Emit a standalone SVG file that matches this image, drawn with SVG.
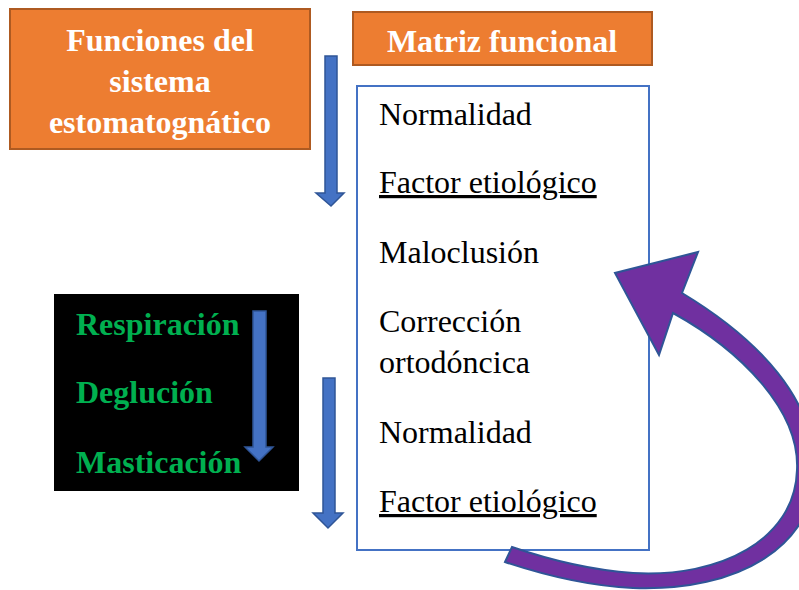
<svg xmlns="http://www.w3.org/2000/svg" width="799" height="590" viewBox="0 0 799 590">
<style>
.orange{fill:#ED7D31;stroke:#AE5A21;stroke-width:2}
.hdr{font-family:"Liberation Serif","Times New Roman",serif;font-weight:bold;font-size:32px;fill:#fff;text-anchor:middle}
.item{font-family:"Liberation Serif","Times New Roman",serif;font-size:32px;fill:#000}
.green{font-family:"Liberation Serif","Times New Roman",serif;font-weight:bold;font-size:32px;fill:#00B050}
.barrow{fill:#4472C4;stroke:#2F5597;stroke-width:1.5}
.u{text-decoration:underline}
</style>
<rect width="799" height="590" fill="#fff"/>
<g id="funciones">
<rect class="orange" x="10" y="9" width="300" height="140"/>
<text class="hdr" x="160" y="51">Funciones del</text>
<text class="hdr" x="160" y="92">sistema</text>
<text class="hdr" x="160" y="133">estomatognático</text>
</g>
<g id="matriz">
<rect class="orange" x="353" y="12" width="299" height="53"/>
<text class="hdr" x="502" y="52">Matriz funcional</text>
</g>
<g id="lista">
<rect x="357" y="86" width="292" height="464" fill="#fff" stroke="#4472C4" stroke-width="2"/>
<text class="item" x="379" y="125">Normalidad</text>
<text class="item u" x="379" y="193">Factor etiológico</text>
<text class="item" x="379" y="263">Maloclusión</text>
<text class="item" x="379" y="332">Corrección</text>
<text class="item" x="379" y="373">ortodóncica</text>
<text class="item" x="379" y="443">Normalidad</text>
<text class="item u" x="379" y="512">Factor etiológico</text>
</g>
<g id="funciones-lista">
<rect x="54" y="294" width="245" height="197" fill="#000"/>
<text class="green" x="76" y="335">Respiración</text>
<text class="green" x="76" y="403">Deglución</text>
<text class="green" x="76" y="473">Masticación</text>
</g>
<g id="connectors">
<path class="barrow" d="M325,56 H337 V193 H344 L331,206 L316,193 H325 Z"/>
<path class="barrow" d="M253,311 H266 V447 H273 L259,461 L245,447 H253 Z"/>
<path class="barrow" d="M323,378 H335 V513 H343 L328,528 L313,513 H323 Z"/>
<path d="M505,562 C550,577 590,586 633,588 C740,592 815,545 815,470 C815,400 760,340 682,293 L698,252 L615,273 L659,355 L673,313 C740,350 800,410 797,470 C795,540 720,578 633,573 C590,570 550,560 512,547 Z" fill="#7030A0" stroke="#2F5597" stroke-width="2" stroke-linejoin="miter"/>
</g>
</svg>
